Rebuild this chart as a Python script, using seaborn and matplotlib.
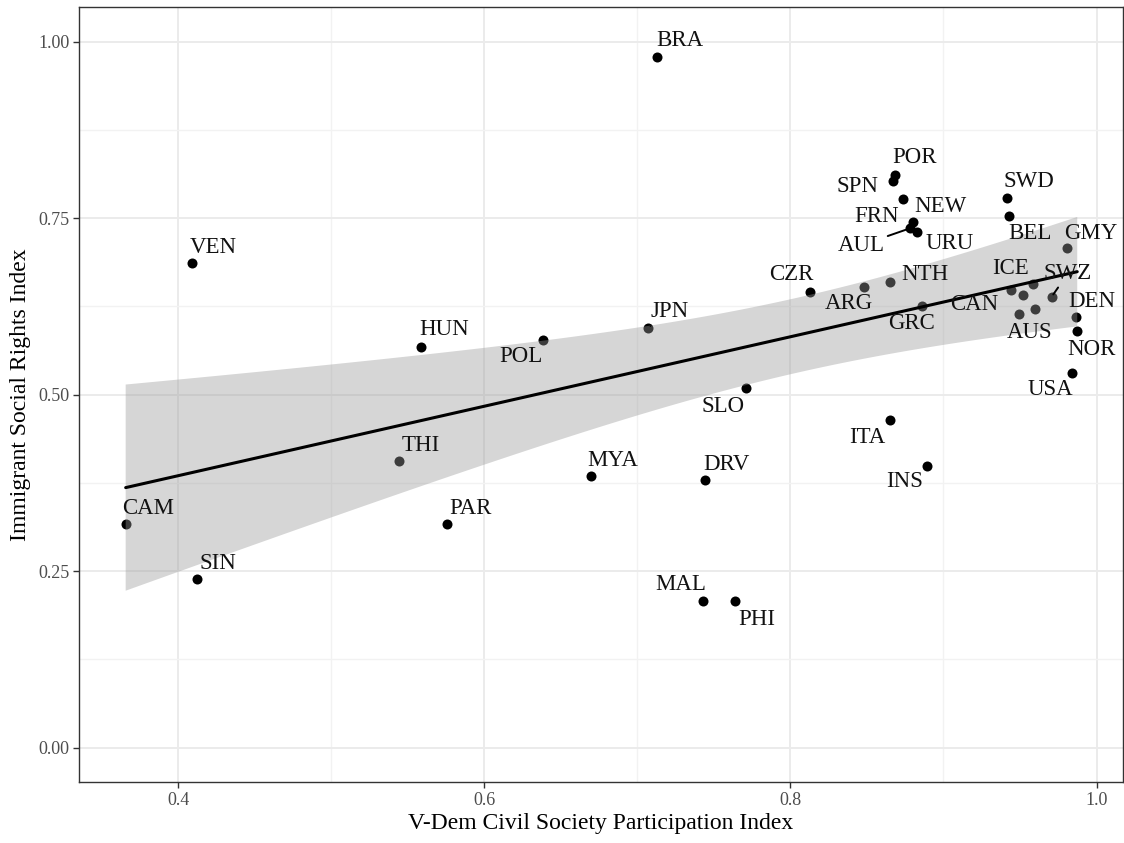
import matplotlib
matplotlib.use("Agg")
import matplotlib.pyplot as plt
import seaborn as sns
import numpy as np
import pandas as pd

# ---- data ----
countries = ["BRA", "VEN", "HUN", "POL", "JPN", "SLO", "POR", "SPN", "NEW", "FRN",
             "AUL", "URU", "SWD", "BEL", "GMY", "CZR", "NTH", "ARG", "GRC", "ICE",
             "CAN", "", "SWZ", "AUS", "", "DEN", "NOR", "USA", "CAM", "SIN",
             "THI", "MYA", "DRV", "PAR", "MAL", "PHI", "ITA", "INS"]
civil_society = [0.7126, 0.4087, 0.5588, 0.6385, 0.7069, 0.7709, 0.8682, 0.8667, 0.8737, 0.8803,
                 0.8781, 0.8829, 0.9417, 0.9426, 0.9809, 0.8127, 0.8650, 0.8482, 0.8861, 0.9439,
                 0.9517, 0.9586, 0.9707, 0.9495, 0.9597, 0.9865, 0.9874, 0.9839, 0.3656, 0.4120,
                 0.5440, 0.6697, 0.7439, 0.5758, 0.7426, 0.7639, 0.8650, 0.8890]
social_rights = [0.979, 0.686, 0.568, 0.578, 0.5945, 0.5095, 0.8112, 0.8031, 0.7768, 0.7450,
                 0.7357, 0.7309, 0.779, 0.7535, 0.7073, 0.645, 0.660, 0.653, 0.6257, 0.6483,
                 0.6412, 0.6568, 0.6388, 0.6139, 0.6218, 0.6096, 0.5902, 0.5303, 0.3164, 0.2385,
                 0.4061, 0.3848, 0.3787, 0.3164, 0.2078, 0.2074, 0.4637, 0.3995]

x_ticks = [0.4, 0.6, 0.8, 1.0]
x_ticklabels = ["0.4", "0.6", "0.8", "1.0"]
y_ticks = [0.00, 0.25, 0.50, 0.75, 1.00]
y_ticklabels = ["0.00", "0.25", "0.50", "0.75", "1.00"]

# ---- label placement (pixel offsets of text centre from the point; layout only) ----
label_offsets = {
    "BRA": (23, 16), "VEN": (22, 16), "HUN": (23, 17), "POL": (-22, -17), "JPN": (22, 16),
    "SLO": (-23, -18), "POR": (20, 18), "SPN": (-35, -6), "NEW": (37, -7), "FRN": (-37, 5),
    "AUL": (-49, -17), "URU": (32, -12), "SWD": (22, 16), "BEL": (21, -18), "GMY": (23, 15),
    "CZR": (-19, 18), "NTH": (35, 7), "ARG": (-15, -17), "GRC": (-11, -18), "ICE": (0, 22),
    "CAN": (-48, -9), "SWZ": (16, 23), "AUS": (10, -18), "DEN": (16, 16), "NOR": (14, -18),
    "USA": (-22, -16), "CAM": (22, 16), "SIN": (21, 16), "THI": (22, 16), "MYA": (22, 16),
    "DRV": (22, 16), "PAR": (23, 16), "MAL": (-22, 16), "PHI": (22, -18), "ITA": (-23, -17),
    "INS": (-22, -16),
}
segment_labels = {"AUL", "SWZ", "JPN"}

df = pd.DataFrame({"country": countries, "civ": civil_society, "isr": social_rights})

sns.set_theme(style="whitegrid")
plt.rcParams["font.family"] = ["Liberation Serif", "DejaVu Serif"]

fig = plt.figure(figsize=(11.24, 8.43), dpi=100)
ax = fig.add_axes([79 / 1124, 61 / 843, 1044 / 1124, 775 / 843])
ax.set_facecolor("white")

sns.scatterplot(data=df, x="civ", y="isr", ax=ax, color="black", s=52,
                linewidth=0, zorder=2, legend=False)
sns.regplot(data=df, x="civ", y="isr", ax=ax, scatter=False, color="black",
            ci=None, truncate=True, line_kws={"linewidth": 2.2, "zorder": 4})

# analytic 95% confidence band of the linear fit (as in ggplot's geom_smooth(method="lm"))
xv = df["civ"].to_numpy()
yv = df["isr"].to_numpy()
n = len(xv)
b1, b0 = np.polyfit(xv, yv, 1)
resid = yv - (b0 + b1 * xv)
s = np.sqrt(np.sum(resid ** 2) / (n - 2))
sxx = np.sum((xv - xv.mean()) ** 2)
grid = np.linspace(xv.min(), xv.max(), 200)
fit = b0 + b1 * grid
t_crit = 2.028  # t(0.975, df=36)
half = t_crit * s * np.sqrt(1.0 / n + (grid - xv.mean()) ** 2 / sxx)
ax.fill_between(grid, fit - half, fit + half, facecolor="#999999", alpha=0.4,
                edgecolor="none", zorder=3)

for name, xi, yi in zip(df["country"], df["civ"], df["isr"]):
    if not name:
        continue
    dx, dy = label_offsets[name]
    arrow = None
    if name in segment_labels:
        arrow = dict(arrowstyle="-", color="black", lw=1.4 if name != "JPN" else 0.8,
                     shrinkA=0, shrinkB=2)
    ax.annotate(name, xy=(xi, yi), xytext=(dx, dy), textcoords="offset pixels",
                ha="center", va="center", fontsize=16.5, color="#111111",
                zorder=5, arrowprops=arrow)

ax.set_xlim(0.3351, 1.0173)
ax.set_ylim(-0.0486, 1.0492)
ax.set_xticks(x_ticks)
ax.set_xticklabels(x_ticklabels)
ax.set_yticks(y_ticks)
ax.set_yticklabels(y_ticklabels)
ax.set_xticks([0.5, 0.7, 0.9], minor=True)
ax.set_yticks([0.125, 0.375, 0.625, 0.875], minor=True)

ax.grid(which="major", color="#ebebeb", linewidth=1.4, zorder=0)
ax.grid(which="minor", color="#f2f2f2", linewidth=1.0, zorder=0)
ax.set_axisbelow(True)

for sp in ax.spines.values():
    sp.set_visible(True)
    sp.set_color("#333333")
    sp.set_linewidth(1.0)

ax.tick_params(which="major", direction="out", length=4, width=1.0, color="#333333",
               labelsize=13, labelcolor="#4d4d4d", pad=3, bottom=True, left=True)
ax.tick_params(which="minor", length=0)

ax.set_xlabel("V-Dem Civil Society Participation Index", fontsize=17, color="black", labelpad=3)
ax.set_ylabel("Immigrant Social Rights Index", fontsize=17, color="black", labelpad=5)

fig.savefig("out.png", dpi=100)
